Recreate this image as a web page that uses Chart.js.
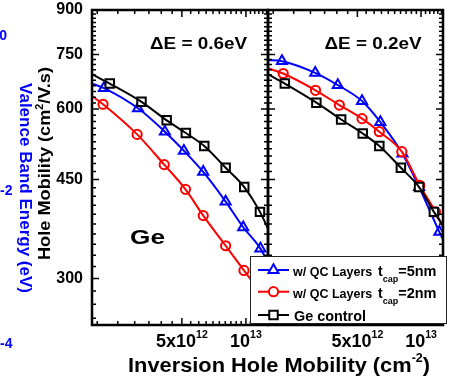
<!DOCTYPE html>
<html>
<head>
<meta charset="utf-8">
<title>Hole mobility</title>
<script src="https://cdn.jsdelivr.net/npm/chart.js@4.4.1/dist/chart.umd.min.js"></script>
<style>
  html, body { margin: 0; background: #fff; }
  .wrap { position: relative; width: 452px; height: 381px; }
  .wrap canvas { position: absolute; left: 0; top: 0; }
</style>
</head>
<body>
<div class="wrap">
  <canvas id="panel-06" width="452" height="381"></canvas>
  <canvas id="panel-02" width="452" height="381"></canvas>
</div>
<script>
// Hole mobility vs inversion charge, two panels (dE = 0.6 eV / 0.2 eV) sharing the y axis.
const X_MIN = 1.89e12, X_MAX = 1.27e13;
const Y_MIN = 248, Y_MAX = 900;
const Y_TICKS = [300, 450, 600, 750, 900];
const X_MAJOR = [5e12, 1e13];
const X_TICK_TEXT = [["5x10", "12"], ["10", "13"]];
const VB_TICKS = ["0", "-2", "-4"];

// panel dE = 0.6eV  (ends = where the fit line meets the left / right frame)
const x06_qc5 = [2.15e12, 3.11e12, 4.16e12, 5.11e12, 6.3e12, 8.03e12, 9.71e12, 11.7e12];
const y06_qc5 = [654, 602, 547, 506, 464, 411, 370, 339];
const end06_qc5 = [666, 320];
const x06_qc2 = [2.13e12, 3.08e12, 4.13e12, 5.2e12, 6.3e12, 8.03e12, 9.79e12];
const y06_qc2 = [612, 541, 478, 432, 388, 343, 310];
const end06_qc2 = [633, 272];
const x06_ge = [2.29e12, 3.23e12, 4.24e12, 5.22e12, 6.37e12, 8.03e12, 9.82e12, 11.64e12];
const y06_ge = [666, 618, 573, 544, 516, 472, 436, 394];
const end06_ge = [692, 368];

// panel dE = 0.2eV
const x02_qc5 = [2.2e12, 3.16e12, 4.04e12, 5.26e12, 6.42e12, 8.17e12, 9.79e12, 12.2e12];
const y02_qc5 = [730, 696, 662, 620, 569, 500, 436, 363];
const end02_qc5 = [733, 352];
const x02_qc2 = [2.23e12, 3.17e12, 4.11e12, 5.26e12, 6.35e12, 8.11e12, 9.86e12, 11.7e12];
const y02_qc2 = [694, 648, 610, 577, 547, 504, 439, 394];
const end02_qc2 = [709, 370];
const x02_ge = [2.27e12, 3.2e12, 4.19e12, 5.3e12, 6.35e12, 8.03e12, 9.79e12, 11.5e12];
const y02_ge = [666, 616, 575, 543, 516, 472, 436, 394];
const end02_ge = [692, 373];

const COLORS = { qc5: "#0000ff", qc2: "#ff0000", ge: "#000000", vb: "#0000ff" };
const FONT = "Arial, 'Liberation Sans', sans-serif";
const bold = (px) => `bold ${px}px ${FONT}`;

const MARK = {
  qc5: { pointStyle: "triangle", radius: 5.8 },
  qc2: { pointStyle: "circle", radius: 4.6 },
  ge: { pointStyle: "rect", radius: 6 },
};

function seriesSets(xs, ys, ends, key) {
  const pts = xs.map((x, i) => ({ x, y: ys[i] }));
  return [
    { data: [{ x: X_MIN, y: ends[0] }, ...pts, { x: X_MAX, y: ends[1] }],
      borderColor: COLORS[key], borderWidth: 2, pointRadius: 0, cubicInterpolationMode: "monotone" },
    { data: pts, showLine: false, pointStyle: MARK[key].pointStyle, pointRadius: MARK[key].radius,
      pointBorderColor: COLORS[key], pointBackgroundColor: "#fff", pointBorderWidth: 2 },
  ];
}

// text with super/subscripts: parts = [text, size, dy]
function rich(ctx, parts, x, y, align = "center", fitW = 0) {
  let w = 0;
  const ws = parts.map((p) => { ctx.font = bold(p[1]); const m = ctx.measureText(p[0]).width; w += m; return m; });
  const sx = fitW ? fitW / w : 1;
  ctx.save();
  ctx.translate(x, y);
  ctx.scale(sx, 1);
  ctx.textAlign = "left";
  ctx.textBaseline = "alphabetic";
  let cx = align === "center" ? -w / 2 : align === "right" ? -w : 0;
  parts.forEach((p, i) => { ctx.font = bold(p[1]); ctx.fillText(p[0], cx, p[2] || 0); cx += ws[i]; });
  ctx.restore();
}

// inward ticks on all four sides + frame
const frame = {
  id: "frame",
  afterDatasetsDraw(chart) {
    const { ctx, chartArea: a, scales: { x, y } } = chart;
    ctx.save();
    ctx.strokeStyle = "#000";
    ctx.lineWidth = 1.5;
    ctx.beginPath();
    for (let v = 255; v <= Y_MAX; v += 15) {
      const p = y.getPixelForValue(v), L = Y_TICKS.includes(v) ? 7 : 4;
      ctx.moveTo(a.left, p); ctx.lineTo(a.left + L, p);
      ctx.moveTo(a.right, p); ctx.lineTo(a.right - L, p);
    }
    for (let k = 4; k <= 25; k++) {
      const v = k * 0.5e12, p = x.getPixelForValue(v), L = X_MAJOR.includes(v) ? 7 : 4;
      ctx.moveTo(p, a.bottom); ctx.lineTo(p, a.bottom - L);
      ctx.moveTo(p, a.top); ctx.lineTo(p, a.top + L);
    }
    ctx.stroke();
    ctx.lineWidth = 2.5;
    ctx.strokeRect(a.left, a.top, a.right - a.left, a.bottom - a.top);
    ctx.restore();
  },
};

function xTickLabels(chart) {
  const { ctx, scales: { x } } = chart;
  ctx.fillStyle = "#000";
  X_MAJOR.forEach((v, i) => {
    const [base, sup] = X_TICK_TEXT[i];
    rich(ctx, [[base, 18], [sup, 10.5, -9]], x.getPixelForValue(v), 347);
  });
}

const leftText = {
  id: "leftText",
  afterDraw(chart) {
    const { ctx } = chart;
    ctx.save();
    ctx.fillStyle = "#000";
    rich(ctx, [["\u0394E = 0.6eV", 16]], 198.5, 48.5, "center", 97);
    rich(ctx, [["Ge", 21]], 147.5, 243.5, "center", 35);
    xTickLabels(chart);
    rich(ctx, [["Inversion Hole Mobility (cm", 21], ["-2", 12, -10], [")", 21]], 279, 372, "center", 302);
    ctx.save();
    ctx.translate(49.5, 163.5);
    ctx.rotate(-Math.PI / 2);
    rich(ctx, [["Hole Mobility (cm", 17], ["2", 10, -7], ["/V.s)", 17]], 0, 0, "center", 193);
    ctx.restore();
    // cut-off secondary axis of the original figure
    ctx.fillStyle = COLORS.vb;
    ctx.save();
    ctx.translate(20, 188);
    ctx.rotate(Math.PI / 2);
    rich(ctx, [["Valence Band Energy (eV)", 16.5]], 0, 0, "center", 210);
    ctx.restore();
    rich(ctx, [[VB_TICKS[0], 14]], 7, 40, "right");
    rich(ctx, [[VB_TICKS[1], 14]], 12.5, 195, "right");
    rich(ctx, [[VB_TICKS[2], 14]], 12.5, 348, "right");
    ctx.restore();
  },
};

const LEGEND_ROWS = [
  { key: "qc5", y: 270, label: "w/ QC Layers", tail: "=5nm" },
  { key: "qc2", y: 291.7, label: "w/ QC Layers", tail: "=2nm" },
  { key: "ge", y: 315, label: "Ge control" },
];

const rightText = {
  id: "rightText",
  afterDraw(chart) {
    const { ctx } = chart;
    ctx.save();
    ctx.fillStyle = "#000";
    rich(ctx, [["\u0394E = 0.2eV", 16]], 373, 48.5, "center", 97);
    xTickLabels(chart);
    // legend box
    ctx.fillStyle = "#fff";
    ctx.fillRect(250, 256, 196, 67);
    ctx.strokeStyle = "#222";
    ctx.lineWidth = 1;
    ctx.strokeRect(250.5, 256.5, 196, 67);
    LEGEND_ROWS.forEach((r) => {
      ctx.strokeStyle = COLORS[r.key];
      ctx.lineWidth = 2;
      ctx.beginPath(); ctx.moveTo(258, r.y); ctx.lineTo(289, r.y); ctx.stroke();
      ctx.fillStyle = "#fff";
      Chart.helpers.drawPoint(ctx, { ...MARK[r.key], rotation: 0, borderWidth: 2 }, 273.5, r.y);
      ctx.fillStyle = "#000";
      if (r.tail) {
        rich(ctx, [[r.label, 12.5]], 293, r.y + 6, "left");
        rich(ctx, [["t", 14], ["cap", 9, 6], [r.tail, 14.5]], 378, r.y + 6, "left");
      } else {
        rich(ctx, [[r.label, 14.4]], 294, r.y + 5.5, "left");
      }
    });
    ctx.restore();
  },
};

const baseOpts = (padding) => ({
  responsive: false,
  animation: false,
  events: [],
  layout: { padding },
  plugins: { legend: { display: false }, tooltip: { enabled: false } },
});

new Chart("panel-06", {
  type: "line",
  data: { datasets: [
    ...seriesSets(x06_ge, y06_ge, end06_ge, "ge"),
    ...seriesSets(x06_qc2, y06_qc2, end06_qc2, "qc2"),
    ...seriesSets(x06_qc5, y06_qc5, end06_qc5, "qc5"),
  ] },
  options: {
    ...baseOpts({ left: 0, top: 10, right: 452 - 268, bottom: 56 }),
    scales: {
      x: { type: "logarithmic", min: X_MIN, max: X_MAX, display: false },
      y: {
        type: "logarithmic", min: Y_MIN, max: Y_MAX,
        grid: { display: false, drawTicks: false }, border: { display: false },
        afterBuildTicks: (s) => { s.ticks = Y_TICKS.map((value) => ({ value })); },
        afterFit: (s) => { s.width = 92; s.paddingTop = 0; s.paddingBottom = 0; },
        ticks: { callback: (v) => String(v), color: "#000", padding: 9,
          font: { family: FONT, size: 16, weight: "bold" } },
      },
    },
  },
  plugins: [frame, leftText],
});

new Chart("panel-02", {
  type: "line",
  data: { datasets: [
    ...seriesSets(x02_ge, y02_ge, end02_ge, "ge"),
    ...seriesSets(x02_qc2, y02_qc2, end02_qc2, "qc2"),
    ...seriesSets(x02_qc5, y02_qc5, end02_qc5, "qc5"),
  ] },
  options: {
    ...baseOpts({ left: 268, top: 10, right: 9, bottom: 56 }),
    scales: {
      x: { type: "logarithmic", min: X_MIN, max: X_MAX, display: false },
      y: { type: "logarithmic", min: Y_MIN, max: Y_MAX, display: false },
    },
  },
  plugins: [frame, rightText],
});
</script>
</body>
</html>
